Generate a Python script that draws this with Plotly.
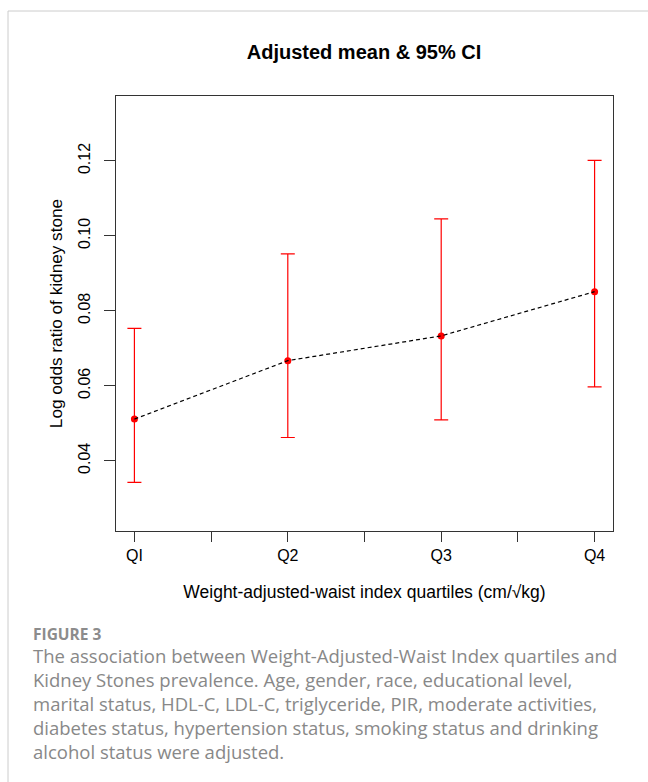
import plotly.graph_objects as go

# ---- data ----
quartiles = [1, 2, 3, 4]
tick_vals = [1, 1.5, 2, 2.5, 3, 3.5, 4]
tick_text = ["QI", "", "Q2", "", "Q3", "", "Q4"]
means = [0.0511, 0.0667, 0.0733, 0.0851]
ci_low = [0.0342, 0.0462, 0.0509, 0.0597]
ci_high = [0.0753, 0.0952, 0.1045, 0.1201]
y_ticks = [0.04, 0.06, 0.08, 0.10, 0.12]
y_tick_text = ["0.04", "0.06", "0.08", "0.10", "0.12"]

caption_head = "FIGURE 3"
caption_lines = [
    "The association between Weight-Adjusted-Waist Index quartiles and",
    "Kidney Stones prevalence. Age, gender, race, educational level,",
    "marital status, HDL-C, LDL-C, triglyceride, PIR, moderate activities,",
    "diabetes status, hypertension status, smoking status and drinking",
    "alcohol status were adjusted.",
]

W, H = 648, 782
L, R, T, B = 116, 35, 96, 251
PW, PH = W - L - R, H - T - B


def px_x(px):
    return (px - L) / PW


def px_y(py):
    return (H - B - py) / PH


err_plus = [h - m for h, m in zip(ci_high, means)]
err_minus = [m - l for m, l in zip(means, ci_low)]

fig = go.Figure()
fig.add_trace(go.Scatter(
    x=quartiles, y=means, mode="markers",
    marker=dict(color="#ff0000", size=7),
    error_y=dict(type="data", symmetric=False, array=err_plus, arrayminus=err_minus,
                 color="#ff0000", thickness=1.2, width=7),
    showlegend=False, hoverinfo="skip",
))
fig.add_trace(go.Scatter(
    x=quartiles, y=means, mode="lines",
    line=dict(color="black", width=1.2, dash="4px,3px"),
    showlegend=False, hoverinfo="skip",
))

font_main = "Liberation Sans, Arial, sans-serif"

fig.update_layout(
    width=W, height=H,
    margin=dict(l=L, r=R, t=T, b=B, autoexpand=False),
    paper_bgcolor="white", plot_bgcolor="white",
    font=dict(family=font_main, size=16, color="black"),
    title=dict(text="<b>Adjusted mean &amp; 95% CI</b>", x=364 / W,
               xanchor="center", y=1 - 52 / H, yanchor="middle",
               font=dict(size=20, family=font_main, color="black")),
    xaxis=dict(range=[0.88, 4.12], tickmode="array", tickvals=tick_vals, ticktext=tick_text,
               ticks="outside", ticklen=10, tickwidth=1.2, tickcolor="#333",
               showline=True, linecolor="#333", linewidth=1.2, mirror=True,
               showgrid=False, zeroline=False,
               tickfont=dict(size=16),
               title=dict(text="Weight-adjusted-waist index quartiles (cm/√kg)",
                          font=dict(size=17.5), standoff=22)),
    yaxis=dict(range=[0.02125, 0.1373], tickmode="array", tickvals=y_ticks, ticktext=y_tick_text,
               ticks="outside", ticklen=11, tickwidth=1.2, tickcolor="#333",
               showline=True, linecolor="#333", linewidth=1.2, mirror=True,
               showgrid=False, zeroline=False, tickangle=-90, ticklabelstandoff=8,
               tickfont=dict(size=16),
               title=dict(text="Log odds ratio of kidney stone",
                          font=dict(size=17.2), standoff=8)),
)

# frame lines of the figure panel
fig.add_shape(type="line", xref="paper", yref="paper",
              x0=px_x(8), x1=px_x(W), y0=px_y(11), y1=px_y(11),
              line=dict(color="#cccccc", width=1))
fig.add_shape(type="line", xref="paper", yref="paper",
              x0=px_x(8), x1=px_x(8), y0=px_y(11), y1=px_y(H),
              line=dict(color="#cccccc", width=1))

cap_font = "Open Sans, Noto Sans, sans-serif"
fig.add_annotation(text="<b>" + caption_head + "</b>", xref="paper", yref="paper",
                   x=px_x(31), y=px_y(634), xanchor="left", yanchor="middle",
                   showarrow=False, font=dict(family=cap_font, size=15.5, color="#8c8c8c"))
for i, line in enumerate(caption_lines):
    fig.add_annotation(text=line, xref="paper", yref="paper",
                       x=px_x(31), y=px_y(655 + 24 * i), xanchor="left", yanchor="middle",
                       showarrow=False, font=dict(family=cap_font, size=18.5, color="#888888"))

fig.write_html("out.html", config={"displayModeBar": False},
               post_script="document.body.style.margin='0';document.body.style.padding='0';"
                           "document.body.style.overflow='hidden';")
